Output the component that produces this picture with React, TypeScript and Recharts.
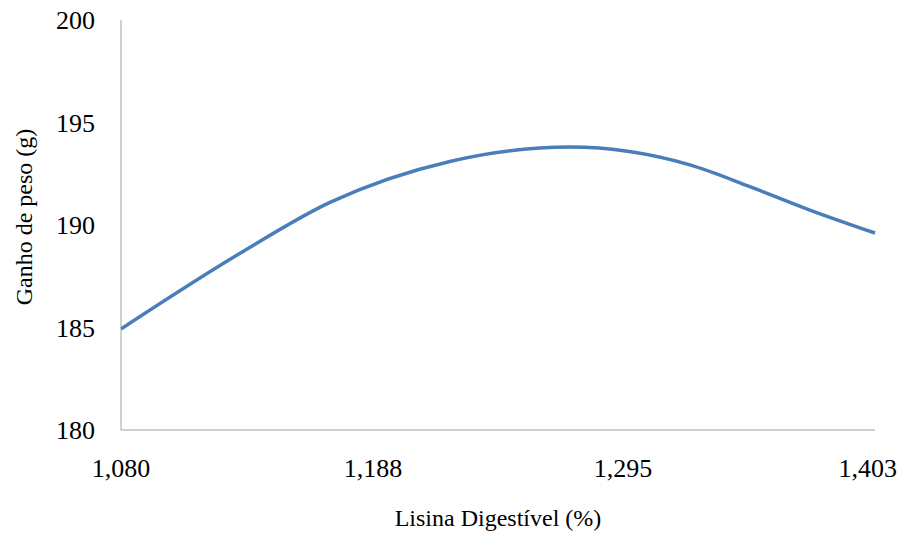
import { Label, Line, LineChart, XAxis, YAxis } from "recharts";

// Lisina digestível (%) vs ganho de peso (g).
const LISINA = [1.08, 1.131, 1.1695, 1.2209, 1.2723, 1.3237, 1.3494, 1.3751, 1.403];
const GANHO = [184.93, 188.62, 191.1, 193.1, 193.8, 192.93, 191.87, 190.73, 189.61];

const X_TICKS = [1.08, 1.188, 1.295, 1.403];
const Y_TICKS = [180, 185, 190, 195, 200];

const FONT = '"Liberation Serif", "Times New Roman", serif';
const AXIS = "#a0a0a0";

const data = LISINA.map((x, i) => ({ x, y: GANHO[i] }));

const fmt = (v: number) => v.toFixed(3).replace(".", ",");

function XTick(props: any) {
  const { x, y, payload, index } = props;
  const last = index === X_TICKS.length - 1;
  return (
    <text
      x={last ? 897 : x}
      y={y}
      dy="0.71em"
      textAnchor={last ? "end" : "middle"}
      fill="#000"
      fontSize={26}
      fontFamily={FONT}
    >
      {fmt(payload.value)}
    </text>
  );
}

function YTitle(props: any) {
  const { viewBox } = props;
  const cx = 24;
  const cy = viewBox.y + viewBox.height / 2 - 8;
  return (
    <text
      x={cx}
      y={cy}
      transform={`rotate(-90 ${cx} ${cy})`}
      textAnchor="middle"
      dominantBaseline="central"
      fill="#000"
      fontSize={24}
      fontFamily={FONT}
    >
      Ganho de peso (g)
    </text>
  );
}

function XTitle(props: any) {
  const { viewBox } = props;
  return (
    <text
      x={viewBox.x + viewBox.width / 2}
      y={viewBox.y + viewBox.height - 7}
      textAnchor="middle"
      fill="#000"
      fontSize={24}
      fontFamily={FONT}
    >
      Lisina Digestível (%)
    </text>
  );
}

export default function App() {
  return (
    <div style={{ position: "absolute", left: 0, top: 0, background: "#fff" }}>
      <LineChart width={904} height={533} data={data} margin={{ top: 20, right: 29, bottom: 0, left: 0 }}>
        <XAxis
          dataKey="x"
          type="number"
          domain={[1.08, 1.403]}
          ticks={X_TICKS}
          height={103}
          tickLine={false}
          tickSize={0}
          tickMargin={29}
          axisLine={{ stroke: AXIS, strokeWidth: 1 }}
          tick={<XTick />}
          interval={0}
        >
          <Label content={<XTitle />} />
        </XAxis>
        <YAxis
          type="number"
          domain={[180, 200]}
          ticks={Y_TICKS}
          width={121}
          tickLine={false}
          tickSize={0}
          tickMargin={26}
          axisLine={{ stroke: AXIS, strokeWidth: 1 }}
          tick={{ fill: "#000", fontSize: 26, fontFamily: FONT }}
          interval={0}
        >
          <Label content={<YTitle />} />
        </YAxis>
        <Line
          type="monotone"
          dataKey="y"
          stroke="#4a7ebb"
          strokeWidth={3.5}
          dot={false}
          isAnimationActive={false}
        />
      </LineChart>
    </div>
  );
}
